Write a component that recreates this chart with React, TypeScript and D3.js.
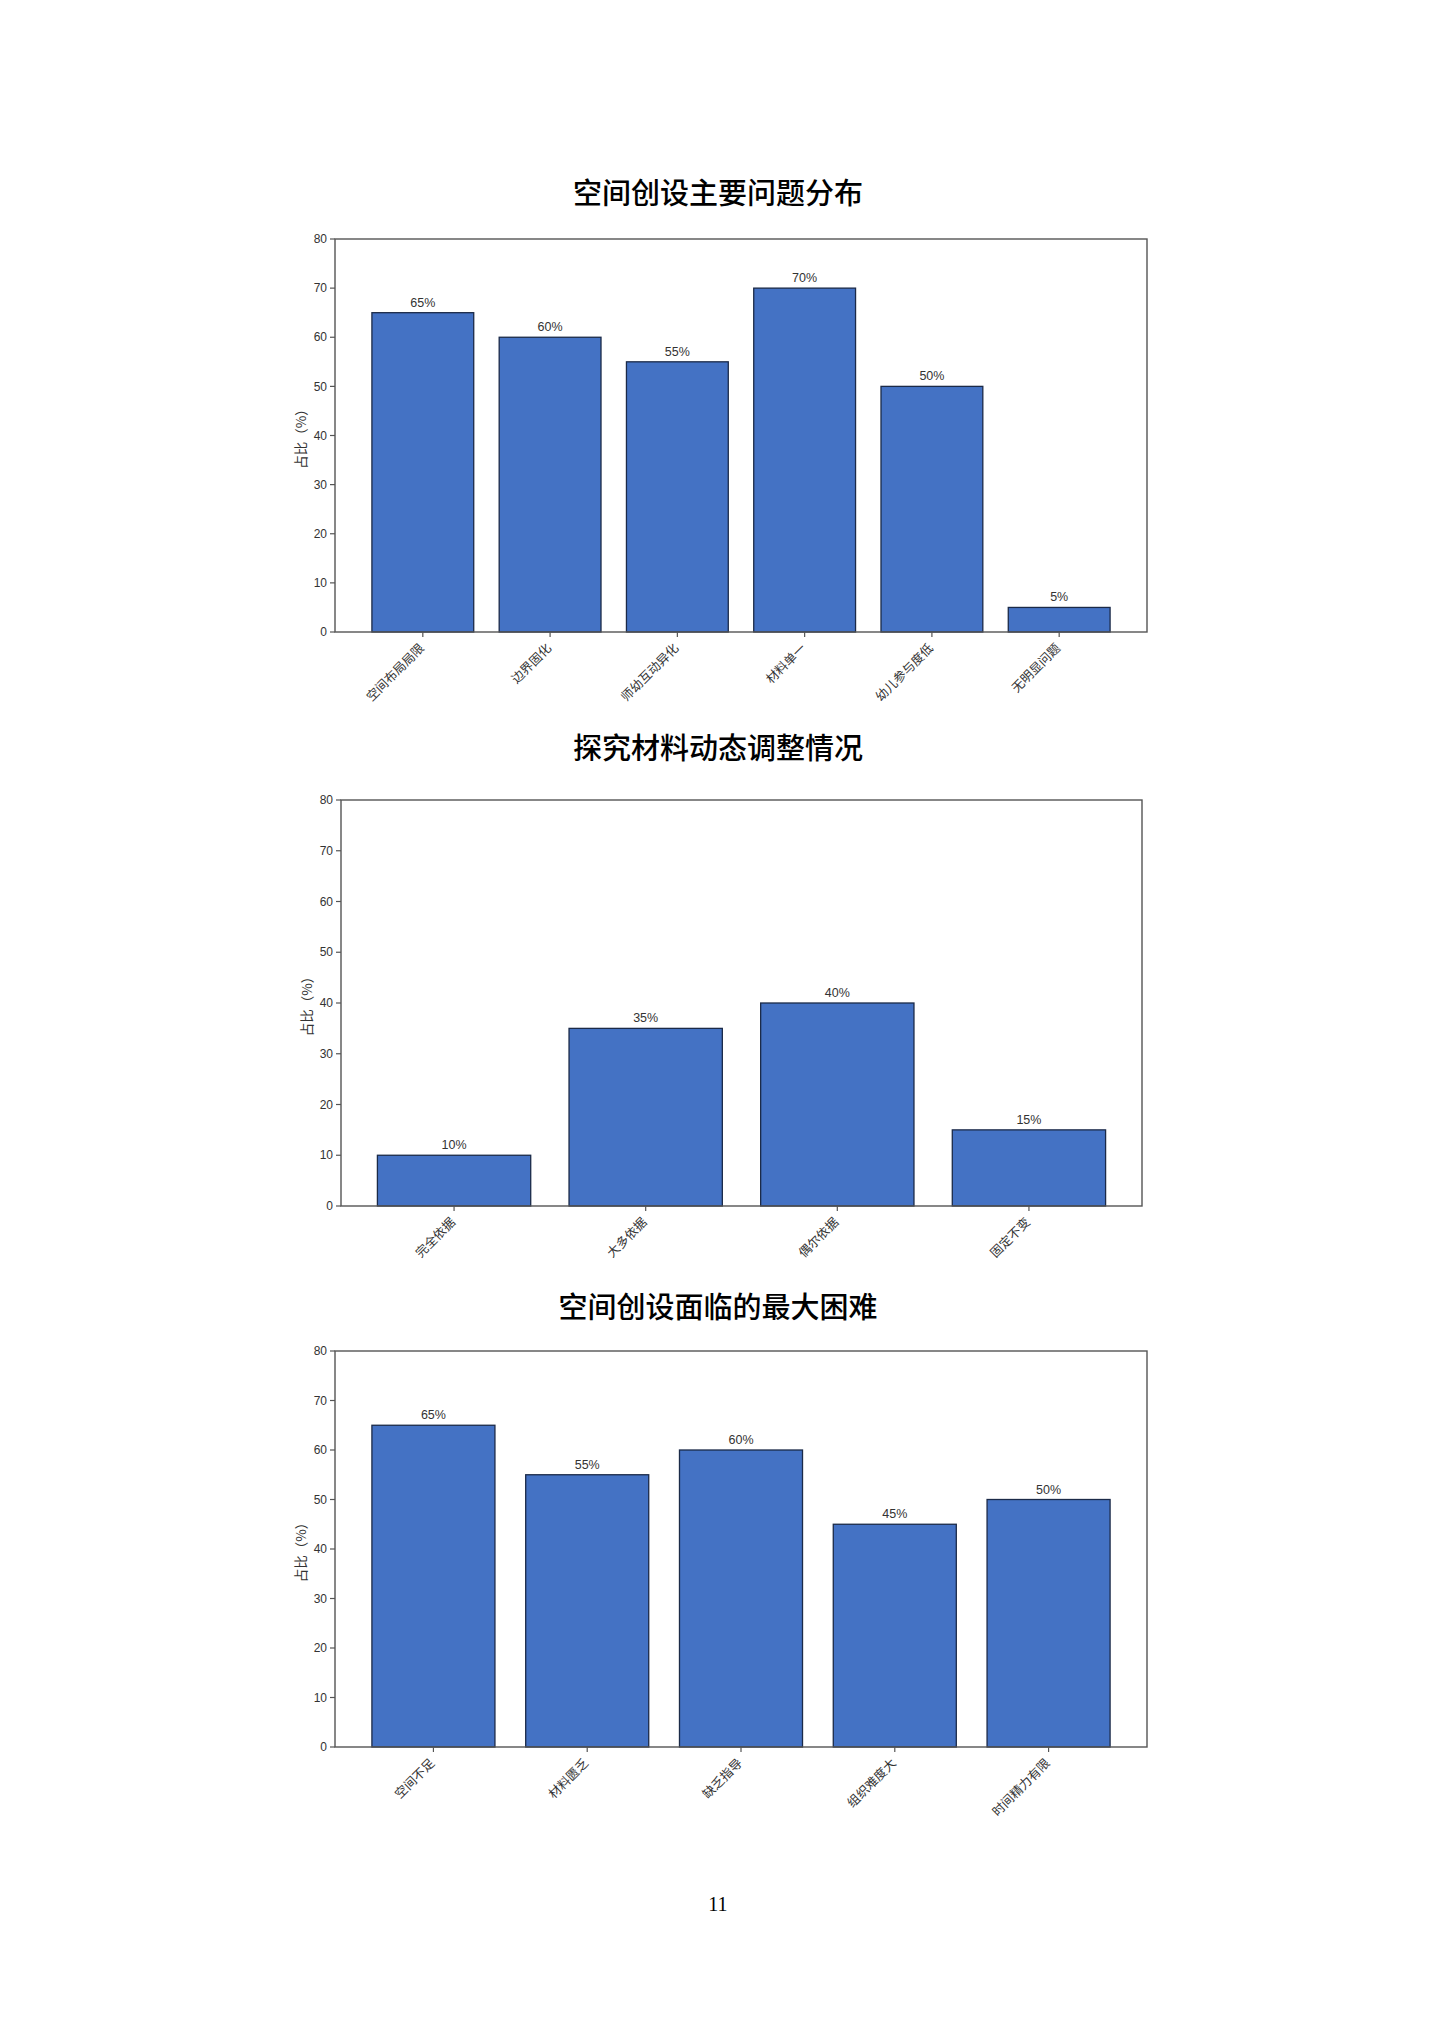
import React from "react";
import * as d3 from "d3";

// chart data
const problemCategories = ["空间布局局限", "边界固化", "师幼互动异化", "材料单一", "幼儿参与度低", "无明显问题"];
const problemValues = [65, 60, 55, 70, 50, 5];

const adjustCategories = ["完全依据", "大多依据", "偶尔依据", "固定不变"];
const adjustValues = [10, 35, 40, 15];

const difficultyCategories = ["空间不足", "材料匮乏", "缺乏指导", "组织难度大", "时间精力有限"];
const difficultyValues = [65, 55, 60, 45, 50];

const chartTitles = ["空间创设主要问题分布", "探究材料动态调整情况", "空间创设面临的最大困难"];
const yTicks = [0, 10, 20, 30, 40, 50, 60, 70, 80];
const yLabel = "占比（%）";
const pageNumber = "11";

const WIDTH = 1440;
const HEIGHT = 2036;
const TITLE_X = 718;

const FONT = "'Liberation Sans', 'Noto Sans CJK SC', sans-serif";
const CJK = "'Noto Sans CJK SC', sans-serif";

interface Box {
  left: number;
  right: number;
  top: number;
  bottom: number;
  titleY: number;
}

// plot areas of the three figures on the page
const layouts: Box[] = [
  { left: 335, right: 1147, top: 239, bottom: 632, titleY: 204 },
  { left: 341, right: 1142, top: 800, bottom: 1206, titleY: 759 },
  { left: 335, right: 1147, top: 1351, bottom: 1747, titleY: 1318 },
];

interface ChartProps {
  title: string;
  categories: string[];
  values: number[];
  box: Box;
}

const BarChart: React.FC<ChartProps> = ({ title, categories, values, box }) => {
  const n = categories.length;
  // same spacing as matplotlib: bar width 0.8, 5% margins
  const x = d3
    .scaleBand<string>()
    .domain(categories)
    .range([box.left, box.right])
    .paddingInner(0.2)
    .paddingOuter(0.05 * (n - 0.2));

  const y = d3.scaleLinear().domain([0, 80]).range([box.bottom, box.top]);
  const midY = (box.top + box.bottom) / 2;

  return (
    <g>
      <text
        x={TITLE_X}
        y={box.titleY}
        textAnchor="middle"
        fontFamily={CJK}
        fontSize={29}
        fontWeight={500}
        fill="#000"
      >
        {title}
      </text>

      {categories.map((c, i) => (
        <rect
          key={c}
          x={x(c)}
          y={y(values[i])}
          width={x.bandwidth()}
          height={box.bottom - y(values[i])}
          fill="#4472C4"
          stroke="#1b2a48"
          strokeWidth={1.3}
        />
      ))}

      {categories.map((c, i) => (
        <text
          key={c + "-v"}
          x={(x(c) ?? 0) + x.bandwidth() / 2}
          y={y(values[i]) - 6}
          textAnchor="middle"
          fontFamily={FONT}
          fontSize={12.5}
          fill="#333"
        >
          {values[i]}%
        </text>
      ))}

      <rect
        x={box.left}
        y={box.top}
        width={box.right - box.left}
        height={box.bottom - box.top}
        fill="none"
        stroke="#555"
        strokeWidth={1.4}
      />

      {yTicks.map((t) => (
        <g key={t} transform={`translate(${box.left},${y(t)})`}>
          <line x1={-5} x2={0} stroke="#555" strokeWidth={1.2} />
          <text
            x={-8}
            dy="0.35em"
            textAnchor="end"
            fontFamily={FONT}
            fontSize={12}
            fill="#333"
          >
            {t}
          </text>
        </g>
      ))}

      {categories.map((c) => {
        const cx = (x(c) ?? 0) + x.bandwidth() / 2;
        return (
          <g key={c + "-t"}>
            <line x1={cx} x2={cx} y1={box.bottom} y2={box.bottom + 5} stroke="#555" strokeWidth={1.2} />
            <text
              transform={`translate(${cx + 2},${box.bottom + 17}) rotate(-45)`}
              textAnchor="end"
              fontFamily={CJK}
              fontSize={12.5}
              fill="#333"
            >
              {c}
            </text>
          </g>
        );
      })}

      <text
        transform={`translate(${box.left - 29},${midY}) rotate(-90)`}
        textAnchor="middle"
        fontFamily={CJK}
        fontSize={13.5}
        fill="#333"
      >
        {yLabel}
      </text>
    </g>
  );
};

export default function App() {
  const charts = [
    { categories: problemCategories, values: problemValues },
    { categories: adjustCategories, values: adjustValues },
    { categories: difficultyCategories, values: difficultyValues },
  ];

  return (
    <div style={{ position: "absolute", left: 0, top: 0, background: "#fff" }}>
      <svg width={WIDTH} height={HEIGHT} style={{ display: "block" }}>
        <rect width={WIDTH} height={HEIGHT} fill="#fff" />
        {charts.map((ch, i) => (
          <BarChart
            key={i}
            title={chartTitles[i]}
            categories={ch.categories}
            values={ch.values}
            box={layouts[i]}
          />
        ))}
        <text
          x={TITLE_X}
          y={1911}
          textAnchor="middle"
          fontFamily="'Liberation Serif', serif"
          fontSize={20}
          fill="#000"
        >
          {pageNumber}
        </text>
      </svg>
    </div>
  );
}
